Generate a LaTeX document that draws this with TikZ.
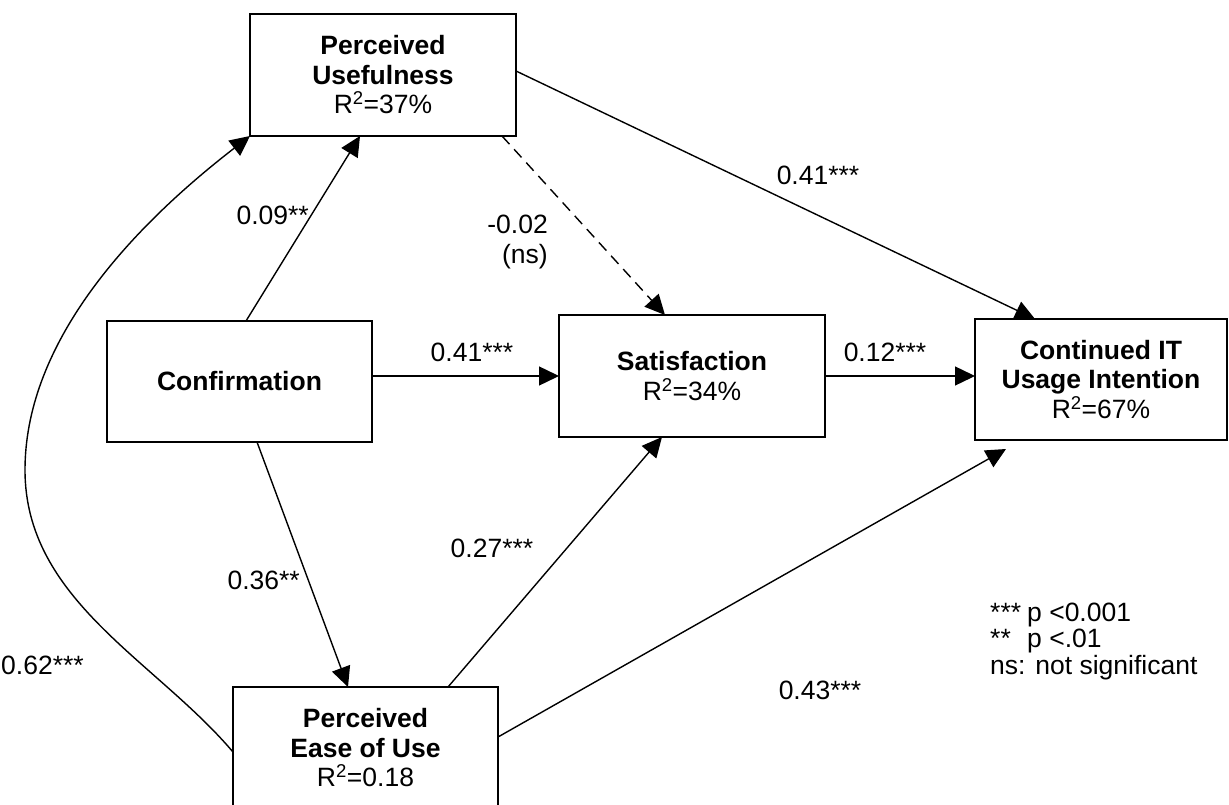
\documentclass[tikz,border=0pt]{standalone}
\usepackage{fontspec}
\setmainfont{Liberation Sans}
\usetikzlibrary{arrows.meta}
\begin{document}
\begin{tikzpicture}[x=1pt,y=-1pt,
  box/.style={draw, line width=2.7pt, rectangle, inner sep=0pt, outer sep=0pt, align=center, font=\fontsize{26.5}{29.5}\selectfont},
  conn/.style={line width=1.4pt, -{Triangle[length=20pt,width=19pt]}},
  lbl/.style={inner sep=0pt, font=\fontsize{26.5}{30.5}\selectfont}]
\clip (0,0) rectangle (1229,805);
\fill[white] (0,0) rectangle (1229,805);

\node[box, minimum width=266pt, minimum height=122pt] (pu) at (383,75)
  {\textbf{Perceived}\\\textbf{Usefulness}\\R\textsuperscript{2}=37\%};
\node[box, minimum width=265pt, minimum height=121pt] (conf) at (239.5,381.5)
  {\textbf{Confirmation}};
\node[box, minimum width=266pt, minimum height=122pt] (sat) at (692,376)
  {\textbf{Satisfaction}\\R\textsuperscript{2}=34\%};
\node[box, minimum width=252pt, minimum height=121pt] (ciui) at (1101,379.5)
  {\textbf{Continued IT}\\\textbf{Usage Intention}\\R\textsuperscript{2}=67\%};
\node[box, minimum width=265pt, minimum height=122pt] (peou) at (365.5,748)
  {\textbf{Perceived}\\\textbf{Ease of Use}\\R\textsuperscript{2}=0.18};

\draw[conn] ([xshift=139pt]conf.north west) -- ([xshift=110pt]pu.south west);
\draw[conn] (conf.east |- sat.west) -- (sat.west);
\draw[conn] (sat.east) -- (sat.east -| ciui.west);
\draw[conn] ([yshift=4pt]pu.east) -- ([xshift=60pt]ciui.north west);
\draw[conn, dash pattern=on 11pt off 7pt] ([xshift=252pt]pu.south west) -- ([xshift=106pt]sat.north west);
\draw[conn] ([xshift=150pt]conf.south west) -- ([xshift=115pt]peou.north west);
\draw[conn] ([xshift=215pt]peou.north west) -- ([xshift=103pt]sat.south west);
\draw[conn] ([yshift=11pt]peou.east) -- ([xshift=31pt,yshift=-9pt]ciui.south west);
\draw[conn] ([yshift=-4pt]peou.west) .. controls (155,660) and (25,600) .. (25,470)
  .. controls (25,350) and (118,238) .. (pu.south west);

\node[lbl, anchor=east] (l1) at (309,215) {0.09**};
\node[lbl] (l2) at (472,352) {0.41***};
\node[lbl] (l3) at (885,352) {0.12***};
\node[lbl] (l4) at (818,175) {0.41***};
\node[lbl, anchor=east, align=right] (l5) at (548,242) {-0.02\\(ns)};
\node[lbl, anchor=east] (l6) at (300,580) {0.36**};
\node[lbl] (l7) at (492,548) {0.27***};
\node[lbl] (l8) at (820,690) {0.43***};
\node[lbl, anchor=west] (l9) at (1,665) {0.62***};
\node[lbl, anchor=west, align=left, font=\fontsize{26.5}{26.5}\selectfont] (leg) at (990,641)
  {\makebox[37pt][l]{***}p <0.001\\\makebox[37pt][l]{**}p <.01\\ns: not significant};
\end{tikzpicture}
\end{document}
